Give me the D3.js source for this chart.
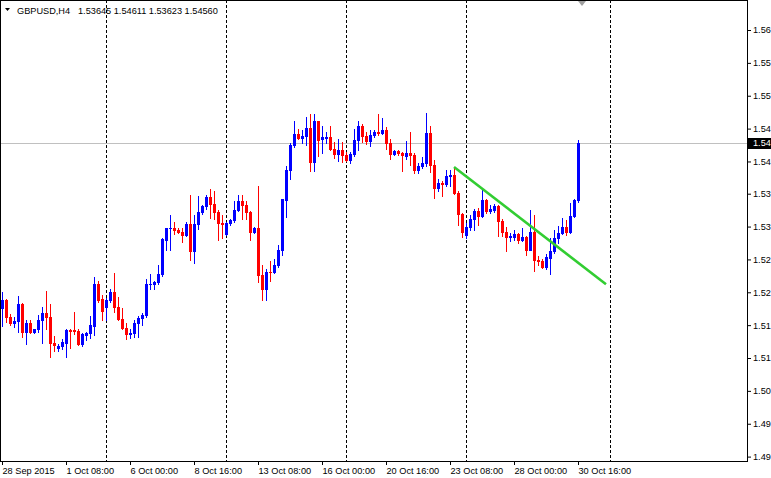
<!DOCTYPE html>
<html><head><meta charset="utf-8">
<script src="https://cdn.jsdelivr.net/npm/d3@7"></script>
<style>
html,body{margin:0;padding:0;background:#fff;}
svg{display:block;}
text{font-family:"Liberation Sans",Arial,sans-serif;font-size:9.2px;fill:#000;}
</style>
</head><body>
<svg id="c" width="771" height="478"></svg>
<script>
const symbol = "GBPUSD,H4";
const opens = [1.5190,1.5203,1.5176,1.5166,1.5169,1.5197,1.5152,1.5166,1.5152,1.5156,1.5172,1.5183,1.5176,1.5135,1.5126,1.5129,1.5135,1.5155,1.5155,1.5154,
1.5133,1.5147,1.5150,1.5162,1.5229,1.5205,1.5192,1.5203,1.5216,1.5192,1.5173,1.5158,1.5148,1.5150,1.5167,1.5174,1.5179,1.5229,1.5229,1.5233,
1.5246,1.5301,1.5319,1.5320,1.5317,1.5314,1.5308,1.5326,1.5283,1.5326,1.5345,1.5355,1.5370,1.5358,1.5345,1.5328,1.5310,1.5328,1.5332,1.5348,
1.5363,1.5356,1.5346,1.5313,1.5319,1.5244,1.5221,1.5249,1.5248,1.5260,1.5284,1.5365,1.5413,1.5453,1.5472,1.5465,1.5468,1.5481,1.5426,1.5492,
1.5463,1.5465,1.5466,1.5447,1.5439,1.5445,1.5438,1.5429,1.5439,1.5461,1.5484,1.5468,1.5460,1.5470,1.5475,1.5473,1.5477,1.5456,1.5439,1.5444,
1.5441,1.5436,1.5441,1.5438,1.5413,1.5419,1.5425,1.5473,1.5422,1.5384,1.5392,1.5390,1.5403,1.5405,1.5376,1.5342,1.5308,1.5321,1.5335,1.5347,
1.5339,1.5365,1.5347,1.5349,1.5355,1.5331,1.5313,1.5305,1.5305,1.5310,1.5300,1.5305,1.5285,1.5314,1.5268,1.5267,1.5257,1.5272,1.5282,1.5304,
1.5312,1.5321,1.5313,1.5339,1.53645];
const highs = [1.5216,1.5205,1.5181,1.5176,1.5210,1.5199,1.5172,1.5172,1.5157,1.5179,1.5193,1.5218,1.5197,1.5146,1.5133,1.5140,1.5157,1.5157,1.5185,1.5156,
1.5150,1.5152,1.5177,1.5240,1.5235,1.5211,1.5207,1.5222,1.5247,1.5208,1.5190,1.5166,1.5156,1.5171,1.5177,1.5183,1.5237,1.5245,1.5235,1.5260,
1.5303,1.5320,1.5340,1.5329,1.5320,1.5320,1.5329,1.5373,1.5340,1.5371,1.5356,1.5373,1.5382,1.5380,1.5349,1.5341,1.5329,1.5334,1.5363,1.5373,
1.5373,1.5363,1.5347,1.5321,1.5388,1.5260,1.5254,1.5266,1.5269,1.5292,1.5367,1.5419,1.5457,1.5492,1.5480,1.5477,1.5498,1.5503,1.5504,1.5493,
1.5484,1.5474,1.5484,1.5458,1.5463,1.5458,1.5442,1.5442,1.5479,1.5493,1.5487,1.5474,1.5477,1.5477,1.5503,1.5497,1.5482,1.5464,1.5446,1.5445,
1.5443,1.5460,1.5475,1.5440,1.5425,1.5434,1.5505,1.5484,1.5430,1.5399,1.5395,1.5413,1.5414,1.5418,1.5380,1.5344,1.5328,1.5340,1.5351,1.5352,
1.5382,1.5367,1.5356,1.5358,1.5356,1.5334,1.5322,1.5312,1.5316,1.5312,1.5320,1.5306,1.5349,1.5340,1.5274,1.5270,1.5277,1.5304,1.5316,1.5323,
1.5336,1.5332,1.5360,1.5367,1.54611];
const lows = [1.5162,1.5168,1.5164,1.5160,1.5152,1.5144,1.5132,1.5151,1.5150,1.5152,1.5135,1.5157,1.5112,1.5121,1.5122,1.5125,1.5112,1.5126,1.5149,1.5131,
1.5129,1.5139,1.5142,1.5147,1.5200,1.5171,1.5171,1.5200,1.5184,1.5172,1.5157,1.5141,1.5142,1.5144,1.5144,1.5163,1.5176,1.5222,1.5222,1.5229,
1.5242,1.5284,1.5284,1.5310,1.5312,1.5297,1.5306,1.5268,1.5263,1.5318,1.5343,1.5351,1.5336,1.5335,1.5301,1.5304,1.5309,1.5325,1.5329,1.5347,
1.5334,1.5335,1.5300,1.5312,1.5233,1.5204,1.5204,1.5235,1.5247,1.5256,1.5276,1.5337,1.5398,1.5450,1.5463,1.5457,1.5453,1.5411,1.5411,1.5435,
1.5440,1.5456,1.5445,1.5432,1.5427,1.5426,1.5427,1.5425,1.5436,1.5445,1.5458,1.5455,1.5452,1.5467,1.5469,1.5472,1.5447,1.5431,1.5437,1.5437,
1.5411,1.5431,1.5421,1.5408,1.5408,1.5417,1.5419,1.5410,1.5368,1.5379,1.5372,1.5387,1.5387,1.5375,1.5324,1.5305,1.5304,1.5316,1.5317,1.5324,
1.5337,1.5344,1.5344,1.5346,1.5307,1.5307,1.5283,1.5298,1.5301,1.5296,1.5299,1.5276,1.5284,1.5250,1.5260,1.5255,1.5254,1.5245,1.5280,1.5295,
1.5310,1.5308,1.5312,1.5337,1.53623];
const closes = [1.5203,1.5176,1.5166,1.5169,1.5197,1.5152,1.5166,1.5152,1.5156,1.5172,1.5183,1.5176,1.5135,1.5131,1.5130,1.5136,1.5155,1.5154,1.5153,1.5133,
1.5148,1.5150,1.5163,1.5229,1.5204,1.5186,1.5203,1.5216,1.5192,1.5173,1.5158,1.5148,1.5150,1.5167,1.5174,1.5179,1.5229,1.5230,1.5233,1.5246,
1.5302,1.5319,1.5320,1.5317,1.5314,1.5308,1.5326,1.5283,1.5326,1.5345,1.5355,1.5370,1.5358,1.5345,1.5328,1.5326,1.5328,1.5332,1.5348,1.5363,
1.5356,1.5346,1.5313,1.5319,1.5244,1.5221,1.5248,1.5248,1.5260,1.5284,1.5366,1.5413,1.5453,1.5472,1.5465,1.5468,1.5481,1.5426,1.5492,1.5461,
1.5466,1.5466,1.5447,1.5439,1.5445,1.5437,1.5429,1.5439,1.5461,1.5484,1.5468,1.5460,1.5470,1.5475,1.5473,1.5477,1.5456,1.5439,1.5444,1.5441,
1.5437,1.5441,1.5438,1.5413,1.5419,1.5425,1.5473,1.5422,1.5384,1.5392,1.5390,1.5403,1.5405,1.5376,1.5342,1.5313,1.5321,1.5335,1.5347,1.5339,
1.5365,1.5347,1.5351,1.5355,1.5331,1.5313,1.5305,1.5306,1.5310,1.5300,1.5305,1.5285,1.5314,1.5268,1.5267,1.5257,1.5273,1.5282,1.5304,1.5312,
1.5321,1.5313,1.5339,1.5365,1.54560];

const xLabelIdx = [0,16,32,48,64,80,96,112,128,144];
const xLabels = ["28 Sep 2015","1 Oct 08:00","6 Oct 00:00","8 Oct 16:00","13 Oct 08:00","16 Oct 00:00","20 Oct 16:00","23 Oct 08:00","28 Oct 00:00","30 Oct 16:00"];
const yTickValues = [1.5639,1.5586,1.5533,1.5480,1.5427,1.5375,1.5322,1.5269,1.5216,1.5163,1.5110,1.5057,1.5004,1.4951];
const yTickLabels = ["1.56","1.55","1.55","1.54","1.54","1.53","1.53","1.52","1.52","1.51","1.51","1.50","1.49","1.49"];
const separatorIdx = [26,56,86,116,152];
const trendIdx = [113,151];
const trendPrice = [1.5418,1.5229];
const lastPriceLabel = "1.54";

const svg = d3.select("#c");
const plotRight = 747, plotBottom = 461;
const x = d3.scaleLinear().domain([0,186]).range([2,746]);
const y = d3.scaleLinear().domain([1.49439,1.56874]).range([plotBottom,0]);
const px = i => Math.round(x(i));
const py = p => Math.round(y(p));

const data = opens.map((o,i)=>({i, o, h:highs[i], l:lows[i], c:closes[i]}));
const lastBar = data[data.length-1];

// period separators
svg.append("g").selectAll("line").data(separatorIdx).join("line")
  .attr("x1",d=>px(d)+0.5).attr("x2",d=>px(d)+0.5)
  .attr("y1",0).attr("y2",plotBottom)
  .attr("stroke","#000").attr("stroke-width",1).attr("stroke-dasharray","3,2");

// price line
svg.append("line").attr("x1",0).attr("x2",plotRight)
  .attr("y1",py(lastBar.c)+0.5).attr("y2",py(lastBar.c)+0.5)
  .attr("stroke","#c0c0c0").attr("stroke-width",1);

// candles
const cg = svg.append("g").attr("shape-rendering","crispEdges");
const col = d => d.c >= d.o ? "#0000ff" : "#ff0000";
cg.selectAll("line.w").data(data).join("line").attr("class","w")
  .attr("x1",d=>px(d.i)+0.5).attr("x2",d=>px(d.i)+0.5)
  .attr("y1",d=>py(d.h)).attr("y2",d=>py(d.l)+1)
  .attr("stroke",col).attr("stroke-width",1);
cg.selectAll("rect.b").data(data).join("rect").attr("class","b")
  .attr("x",d=>px(d.i)-1).attr("width",3)
  .attr("y",d=>py(Math.max(d.o,d.c)))
  .attr("height",d=>Math.max(1, py(Math.min(d.o,d.c))-py(Math.max(d.o,d.c))+1))
  .attr("fill",col);

// trend line
svg.append("line")
  .attr("x1",x(trendIdx[0])).attr("y1",y(trendPrice[0]))
  .attr("x2",x(trendIdx[1])).attr("y2",y(trendPrice[1]))
  .attr("stroke","#32cd32").attr("stroke-width",2.6);

// frame
const fg = svg.append("g").attr("shape-rendering","crispEdges");
fg.append("line").attr("x1",0.5).attr("x2",0.5).attr("y1",0).attr("y2",plotBottom).attr("stroke","#000");
fg.append("line").attr("x1",0).attr("x2",plotRight).attr("y1",0.5).attr("y2",0.5).attr("stroke","#000");
fg.append("line").attr("x1",0).attr("x2",plotRight+1).attr("y1",plotBottom+0.5).attr("y2",plotBottom+0.5).attr("stroke","#000");
fg.append("line").attr("x1",plotRight+0.5).attr("x2",plotRight+0.5).attr("y1",0).attr("y2",plotBottom+1).attr("stroke","#000");

// y axis
const yAxis = d3.axisRight(y).tickValues(yTickValues).tickFormat((d,i)=>yTickLabels[i]).tickSize(4).tickSizeOuter(0).tickPadding(2);
const gy = svg.append("g").attr("transform",`translate(${plotRight},0)`).call(yAxis);
gy.select(".domain").remove();
gy.selectAll("line").attr("stroke","#000");

// x axis
const xAxis = d3.axisBottom(x).tickValues(xLabelIdx).tickFormat((d,i)=>xLabels[i]).tickSize(4).tickSizeOuter(0).tickPadding(2);
const gx = svg.append("g").attr("transform",`translate(0,${plotBottom})`).call(xAxis);
gx.select(".domain").remove();
gx.selectAll(".tick").attr("transform",d=>`translate(${px(d)+0.5},0)`);
gx.selectAll("line").attr("stroke","#000");
gx.selectAll("text").attr("text-anchor","start").attr("x",0);

// current price box
const ly = py(lastBar.c);
svg.append("rect").attr("x",plotRight+1).attr("y",ly-5).attr("width",771-plotRight-1).attr("height",11).attr("fill","#000");
svg.append("text").attr("x",753).attr("y",ly+0.5).attr("dy","0.32em").style("fill","#fff").text(lastPriceLabel);

// chart shift marker
const sx = px(lastBar.i)+4;
svg.append("path").attr("d",`M${sx-4},1L${sx+4},1L${sx},6Z`).attr("fill","#a0a0a0");

// title
svg.append("path").attr("d","M5,8L10,8L7.5,11Z").attr("fill","#000");
svg.append("text").attr("x",17).attr("y",14).text(symbol);
const f5 = d3.format(".5f");
svg.append("text").attr("x",78).attr("y",14).text([lastBar.o,lastBar.h,lastBar.l,lastBar.c].map(f5).join(" "));
</script>
</body></html>
